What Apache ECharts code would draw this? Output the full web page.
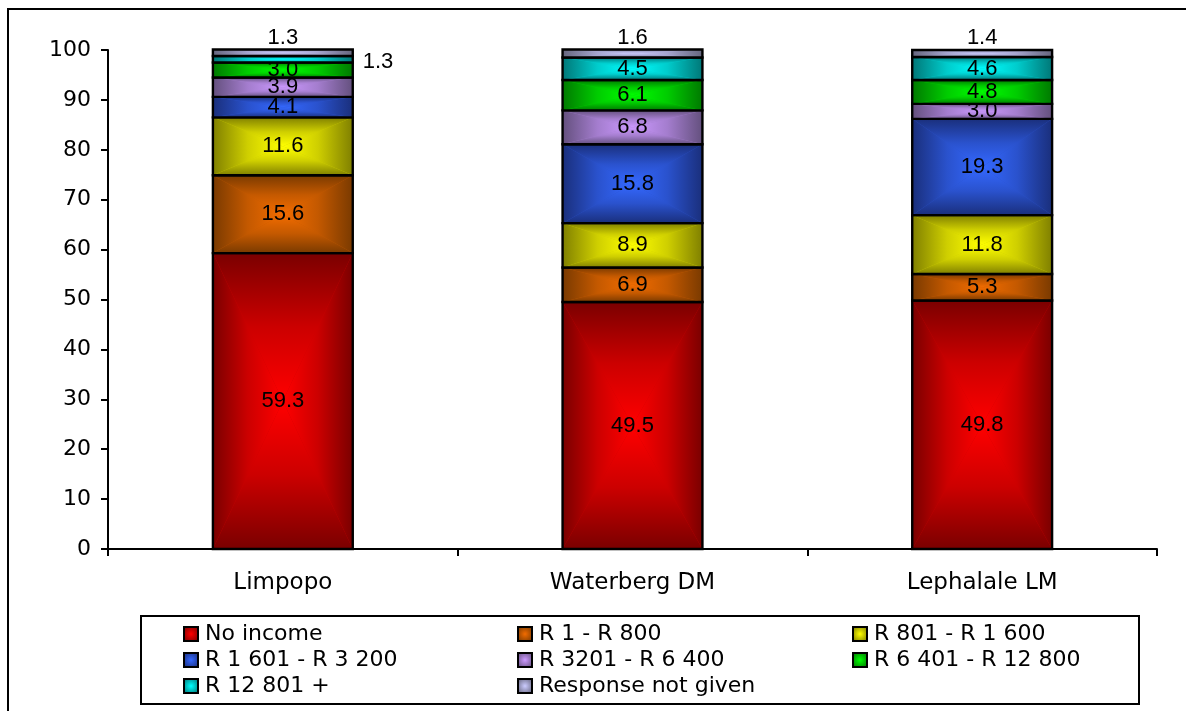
<!DOCTYPE html>
<html>
<head>
<meta charset="utf-8">
<script src="https://cdn.jsdelivr.net/npm/echarts@6/dist/echarts.min.js"></script>
<style>
  html, body { margin: 0; padding: 0; background: #fff; }
  #chart { width: 1186px; height: 711px; }
</style>
</head>
<body>
<div id="chart"></div>
<script>
// Monthly household income bands (% of households)
const categories = ['Limpopo', 'Waterberg DM', 'Lephalale LM'];

const bandNames = [
  'No income', 'R 1 - R 800', 'R 801 - R 1 600', 'R 1 601 - R 3 200',
  'R 3201 - R 6 400', 'R 6 401 - R 12 800', 'R 12 801 +', 'Response not given'
];

const noIncome      = [59.3, 49.5, 49.8];
const r1to800       = [15.6, 6.9, 5.3];
const r801to1600    = [11.6, 8.9, 11.8];
const r1601to3200   = [4.1, 15.8, 19.3];
const r3201to6400   = [3.9, 6.8, 3.0];
const r6401to12800  = [3.0, 6.1, 4.8];
const r12801plus    = [1.3, 4.5, 4.6];
const notGiven      = [1.3, 1.6, 1.4];

const bandValues = [noIncome, r1to800, r801to1600, r1601to3200,
                    r3201to6400, r6401to12800, r12801plus, notGiven];

// [centre colour, edge colour] for each band's centre-out shading
const bandColors = [
  ['#ff0000', '#7a0000'],
  ['#f26c00', '#7a3a00'],
  ['#ffff00', '#808000'],
  ['#3468ff', '#1a2f7c'],
  ['#cc99ff', '#64507e'],
  ['#00ff00', '#007a00'],
  ['#00ffff', '#007878'],
  ['#ccccff', '#66667e']
];

const LABEL_FONT = 'Liberation Sans, Arial, sans-serif';
const AXIS_FONT = 'DejaVu Sans, Verdana, sans-serif';

// label placement overrides: series index -> category index -> side
const labelSide = { 6: { 0: 'right' }, 7: { 0: 'top', 1: 'top', 2: 'top' } };

function mix(c0, c1, t) {
  const a = parseInt(c0.slice(1), 16), b = parseInt(c1.slice(1), 16);
  const ch = function (s) {
    const u = (a >> s) & 255, v = (b >> s) & 255;
    return Math.round(u + (v - u) * t);
  };
  return 'rgb(' + ch(16) + ',' + ch(8) + ',' + ch(0) + ')';
}

function lin(x, y, x2, y2, dark, bright, darkFirst) {
  const stops = [
    { offset: 0, color: dark },
    { offset: 0.5, color: mix(dark, bright, 0.62) },
    { offset: 1, color: bright }
  ];
  if (!darkFirst) stops.forEach(function (s) { s.offset = 1 - s.offset; });
  return { type: 'linear', x: x, y: y, x2: x2, y2: y2,
           colorStops: darkFirst ? stops : stops.reverse() };
}

function makeRender(si) {
  return function (params, api) {
    const cat = api.value(0);
    const val = api.value(1);
    let base = 0;
    for (let k = 0; k < si; k++) base += bandValues[k][cat];
    const pTop = api.coord([cat, base + val]);
    const pBot = api.coord([cat, base]);
    const w = api.size([1, 0])[0] * 0.4;
    const x0 = pTop[0] - w / 2, x1 = pTop[0] + w / 2;
    const y0 = pTop[1], y1 = pBot[1];
    const cx = (x0 + x1) / 2, cy = (y0 + y1) / 2;
    const bright = bandColors[si][0], dark = bandColors[si][1];

    const tri = function (pts, grad) {
      return { type: 'polygon', shape: { points: pts }, style: { fill: grad } };
    };
    const children = [
      { type: 'rect', shape: { x: x0, y: y0, width: x1 - x0, height: y1 - y0 },
        style: { fill: mix(dark, bright, 0.6) } },
      tri([[x0, y0], [x0, y1], [cx, cy]], lin(0, 0, 1, 0, dark, bright, true)),
      tri([[x1, y0], [x1, y1], [cx, cy]], lin(0, 0, 1, 0, dark, bright, false)),
      tri([[x0, y0], [x1, y0], [cx, cy]], lin(0, 0, 0, 1, dark, bright, true)),
      tri([[x0, y1], [x1, y1], [cx, cy]], lin(0, 0, 0, 1, dark, bright, false)),
      { type: 'rect', shape: { x: x0, y: y0, width: x1 - x0, height: y1 - y0 },
        style: { fill: null, stroke: '#000', lineWidth: 2.4 } }
    ];

    const side = labelSide[si] && labelSide[si][cat];
    let tx = cx, ty = cy, align = 'center';
    if (side === 'top') { ty = y0 - 12; }
    else if (side === 'right') { tx = x1 + 10; ty = cy + 3; align = 'left'; }
    children.push({
      type: 'text', z2: 100,
      style: { text: val.toFixed(1), x: tx, y: ty, align: align, verticalAlign: 'middle',
               fontSize: 22, fontFamily: LABEL_FONT, fill: '#000' }
    });
    return { type: 'group', children: children };
  };
}

const series = bandNames.map(function (name, si) {
  return {
    name: name,
    type: 'custom',
    renderItem: makeRender(si),
    encode: { x: 0, y: 1 },
    itemStyle: {
      color: { type: 'radial', x: 0.5, y: 0.5, r: 0.6,
               colorStops: [{ offset: 0, color: bandColors[si][0] },
                            { offset: 1, color: bandColors[si][1] }] }
    },
    data: bandValues[si].map(function (v, ci) { return [ci, v]; }),
    z: 2 + si
  };
});

function legendColumn(left, names) {
  return {
    orient: 'vertical', left: left, top: 623,
    itemWidth: 14, itemHeight: 14, itemGap: 4, padding: 0,
    icon: 'rect',
    itemStyle: { borderColor: '#000', borderWidth: 2 },
    textStyle: { fontSize: 22, fontFamily: AXIS_FONT, color: '#000', padding: [0, 0, 0, 2], lineHeight: 21 },
    selectedMode: false,
    data: names
  };
}

const option = {
  animation: false,
  backgroundColor: '#fff',
  grid: { left: 108, right: 29, top: 50, bottom: 162 },
  xAxis: {
    type: 'category',
    data: categories,
    axisLine: { lineStyle: { color: '#000', width: 2 } },
    axisTick: { show: true, length: 7, lineStyle: { color: '#000', width: 2 } },
    axisLabel: { color: '#000', fontSize: 23, fontFamily: AXIS_FONT, margin: 23 }
  },
  yAxis: {
    type: 'value', min: 0, max: 100, interval: 10,
    axisLine: { show: true, lineStyle: { color: '#000', width: 2 } },
    axisTick: { show: true, length: 7, lineStyle: { color: '#000', width: 2 } },
    splitLine: { show: false },
    axisLabel: { color: '#000', fontSize: 22, fontFamily: AXIS_FONT, margin: 17 }
  },
  legend: [
    legendColumn(183, [bandNames[0], bandNames[3], bandNames[6]]),
    legendColumn(517, [bandNames[1], bandNames[4], bandNames[7]]),
    legendColumn(852, [bandNames[2], bandNames[5]])
  ],
  graphic: [
    { type: 'rect', shape: { x: 8, y: 9, width: 1200, height: 800 },
      style: { fill: null, stroke: '#000', lineWidth: 2 }, z: -1 },
    { type: 'rect', shape: { x: 141, y: 616, width: 998, height: 88 },
      style: { fill: null, stroke: '#000', lineWidth: 2 }, z: -1 }
  ],
  series: series
};

echarts.init(document.getElementById('chart')).setOption(option);
</script>
</body>
</html>
